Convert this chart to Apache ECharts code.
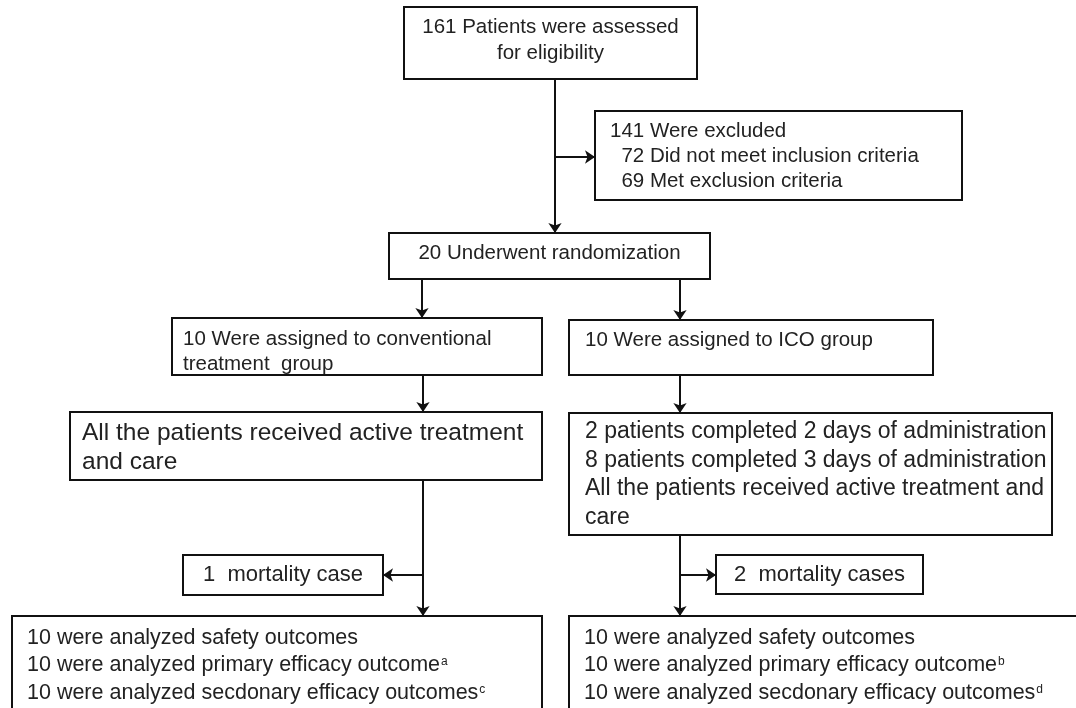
<!DOCTYPE html>
<html>
<head>
<meta charset="utf-8">
<script src="https://cdn.jsdelivr.net/npm/echarts@6/dist/echarts.min.js"></script>
<style>
  html, body { margin: 0; padding: 0; background: #fff; }
  #main { width: 1076px; height: 708px; }
</style>
</head>
<body>
<div id="main"></div>
<script>
// flow chart texts, one array per box
const assessedText = ['161 Patients were assessed', 'for eligibility']
const excludedText = ['141 Were excluded', '  72 Did not meet inclusion criteria', '  69 Met exclusion criteria']
const randomText = ['20 Underwent randomization']
const convText = ['10 Were assigned to conventional', 'treatment  group']
const icoText = ['10 Were assigned to ICO group']
const convCareText = ['All the patients received active treatment', 'and care']
const icoCareText = ['2 patients completed 2 days of administration', '8 patients completed 3 days of administration', 'All the patients received active treatment and', 'care']
const mortConvText = ['1  mortality case']
const mortIcoText = ['2  mortality cases']
const analyzedConvText = ['10 were analyzed safety outcomes', '10 were analyzed primary efficacy outcome{sup|a}', '10 were analyzed secdonary efficacy outcomes{sup|c}']
const analyzedIcoText = ['10 were analyzed safety outcomes', '10 were analyzed primary efficacy outcome{sup|b}', '10 were analyzed secdonary efficacy outcomes{sup|d}']

// layout: box rect [x0, y0, x1, y1], text anchor, font size, line height
const boxes = [
  { rect: [404, 7, 697, 79], lines: assessedText, align: 'center', top: 14, size: 20.5, lh: 26 },
  { rect: [595, 111, 962, 200], lines: excludedText, align: 'left', tx: 610, top: 118.5, size: 20.5, lh: 25 },
  { rect: [389, 233, 710, 279], lines: randomText, align: 'center', top: 240, size: 20.5, lh: 26 },
  { rect: [172, 318, 542, 375], lines: convText, align: 'left', tx: 183, top: 326.5, size: 20.5, lh: 25 },
  { rect: [569, 320, 933, 375], lines: icoText, align: 'left', tx: 585, top: 327.5, size: 20.5, lh: 25 },
  { rect: [70, 412, 542, 480], lines: convCareText, align: 'left', tx: 82, top: 418.5, size: 24.5, lh: 29 },
  { rect: [569, 413, 1052, 535], lines: icoCareText, align: 'left', tx: 585, top: 417.75, size: 23, lh: 28.5 },
  { rect: [183, 555, 383, 595], lines: mortConvText, align: 'center', top: 561.5, size: 22, lh: 27 },
  { rect: [716, 555, 923, 594], lines: mortIcoText, align: 'center', top: 561.5, size: 22, lh: 27 },
  { rect: [12, 616, 542, 740], lines: analyzedConvText, align: 'left', tx: 27, top: 624.25, size: 21.5, lh: 27.5 },
  { rect: [569, 616, 1100, 740], lines: analyzedIcoText, align: 'left', tx: 584, top: 624.25, size: 21.5, lh: 27.5 }
]

// connectors, arrow at the second point
const connectors = [
  [[555, 79], [555, 233]],
  [[555, 157], [595, 157]],
  [[422, 279], [422, 318]],
  [[680, 279], [680, 320]],
  [[423, 375], [423, 412]],
  [[680, 375], [680, 413]],
  [[423, 480], [423, 616]],
  [[423, 575], [383, 575]],
  [[680, 535], [680, 616]],
  [[680, 575], [716, 575]]
]

const chart = echarts.init(document.getElementById('main'))

const option = {
  animation: false,
  grid: { left: 0, right: 0, top: 0, bottom: 0 },
  xAxis: { type: 'value', min: 0, max: 1076, show: false },
  yAxis: { type: 'value', min: 0, max: 708, inverse: true, show: false },
  series: [
    {
      type: 'custom',
      coordinateSystem: 'cartesian2d',
      data: boxes.map((b, i) => [i]),
      renderItem: (params, api) => {
        const b = boxes[api.value(0)]
        const p0 = api.coord([b.rect[0], b.rect[1]])
        const p1 = api.coord([b.rect[2], b.rect[3]])
        const tx = b.align === 'center' ? (p0[0] + p1[0]) / 2 : api.coord([b.tx, 0])[0]
        const ty = api.coord([0, b.top])[1]
        return {
          type: 'group',
          children: [
            {
              type: 'rect',
              shape: { x: p0[0], y: p0[1], width: p1[0] - p0[0], height: p1[1] - p0[1] },
              style: { fill: '#fff', stroke: '#111', lineWidth: 2 }
            },
            {
              type: 'text',
              style: {
                x: tx,
                y: ty,
                text: b.lines.join('\n'),
                align: b.align,
                verticalAlign: 'top',
                fontFamily: '"Liberation Sans", Arial, sans-serif',
                fontSize: b.size,
                lineHeight: b.lh,
                fill: '#222',
                rich: {
                  sup: {
                    fontSize: 12,
                    fontFamily: '"Liberation Sans", Arial, sans-serif',
                    fill: '#222',
                    verticalAlign: 'top',
                    padding: [4, 0, 0, 1],
                    lineHeight: 14
                  }
                }
              }
            }
          ]
        }
      },
      z: 2
    },
    {
      type: 'lines',
      coordinateSystem: 'cartesian2d',
      polyline: false,
      symbol: ['none', 'arrow'],
      symbolSize: 10,
      lineStyle: { color: '#111', width: 2, opacity: 1, curveness: 0 },
      data: connectors.map(c => ({ coords: c })),
      z: 3
    }
  ]
}

chart.setOption(option)
</script>
</body>
</html>
